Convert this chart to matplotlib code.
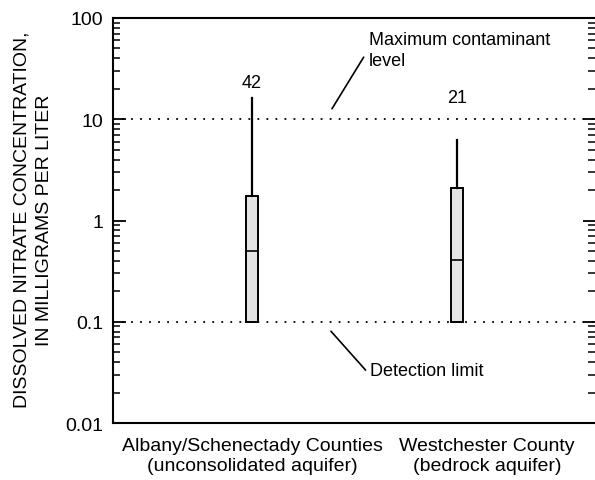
import numpy as np
import matplotlib.pyplot as plt

plt.rcParams['font.family'] = ['Liberation Sans', 'DejaVu Sans']
plt.rcParams['font.size'] = 14

# data
sites = ['Albany/Schenectady Counties\n(unconsolidated aquifer)',
         'Westchester County\n(bedrock aquifer)']
n_samples = [42, 21]
whisker_low = [0.1, 0.1]
q1 = [0.1, 0.1]
median = [0.5, 0.41]
q3 = [1.76, 2.1]
whisker_high = [16.2, 6.3]
mcl = 10.0
detection_limit = 0.1

fig = plt.figure(figsize=(5.95, 4.81), dpi=100)
ax = fig.add_axes([0.190, 0.1185, 0.81, 0.842])

positions = [1, 2]
label_positions = [1, 2.146]
stats = []
for i in range(len(sites)):
    stats.append({'whislo': whisker_low[i], 'q1': q1[i], 'med': median[i],
                  'q3': q3[i], 'whishi': whisker_high[i], 'fliers': []})

ax.bxp(stats, positions=positions, widths=0.055, showcaps=False,
       showfliers=False, patch_artist=True,
       boxprops=dict(facecolor='#e4e4e4', edgecolor='black', linewidth=1.4),
       medianprops=dict(color='black', linewidth=1.2),
       whiskerprops=dict(color='black', linewidth=1.6))

# reference lines
ax.axhline(mcl, color='black', linestyle=(0, (1, 4)), linewidth=1.3, zorder=0)
ax.axhline(detection_limit, color='black', linestyle=(0, (1, 4)), linewidth=1.3, zorder=0)

# sample counts
for x, n, y in zip(positions, n_samples, [23.0, 16.3]):
    ax.text(x, y, str(n), ha='center', va='center', fontsize=13)

# annotations
ax.annotate('Maximum contaminant\nlevel', xy=(1.390, 12.7), xytext=(1.571, 75),
            ha='left', va='top', linespacing=1.3, fontsize=13,
            arrowprops=dict(arrowstyle='-', color='black', lw=1.2,
                            shrinkA=0, shrinkB=0, relpos=(-0.03, 0.3)))
ax.annotate('Detection limit', xy=(1.385, 0.0806), xytext=(1.576, 0.0333),
            ha='left', va='center', fontsize=13,
            arrowprops=dict(arrowstyle='-', color='black', lw=1.2,
                            shrinkA=0, shrinkB=0, relpos=(-0.04, 0.5)))

ax.set_yscale('log')
ax.set_ylim(0.01, 100)
ax.set_xlim(0.322, 2.673)
ax.set_yticks([0.01, 0.1, 1, 10, 100])
ax.set_yticklabels(['0.01', '0.1', '1', '10', '100'])
ax.set_xticks(label_positions)
ax.set_xticklabels(sites, linespacing=1.27)
ax.tick_params(axis='x', length=0, pad=10)
ax.tick_params(axis='y', which='major', direction='in', length=9, width=1.3,
               left=True, right=True, pad=7)
ax.tick_params(axis='y', which='minor', direction='in', length=5, width=1.1,
               left=True, right=True)
for s in ['left', 'bottom', 'top']:
    ax.spines[s].set_linewidth(1.5)
ax.spines['right'].set_visible(False)

fig.text(0.0563, 0.543, 'DISSOLVED NITRATE CONCENTRATION,\nIN MILLIGRAMS PER LITER',
         rotation=90, ha='center', va='center', multialignment='center',
         linespacing=1.4, fontsize=14)

plt.savefig('out.png', dpi=100)
